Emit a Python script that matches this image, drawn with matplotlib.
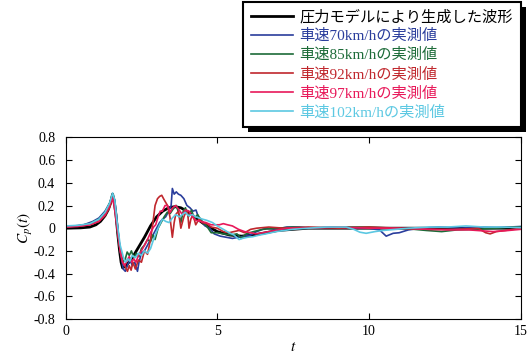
import matplotlib
matplotlib.use('Agg')
import matplotlib.pyplot as plt
from matplotlib.patches import Rectangle

plt.rcParams['font.family'] = ['Liberation Serif', 'Noto Sans CJK JP']
plt.rcParams['mathtext.fontset'] = 'stix'

# (t, Cp) pairs
model = [(0, 0.0), (0.5, 0.003), (0.8, 0.01), (1.0, 0.03), (1.15, 0.06), (1.3, 0.11), (1.4, 0.16),
         (1.48, 0.22), (1.55, 0.3), (1.6, 0.24), (1.66, 0.12), (1.72, -0.05), (1.78, -0.2), (1.83, -0.3),
         (1.88, -0.35), (2.0, -0.33), (2.2, -0.26), (2.4, -0.17), (2.6, -0.08), (2.8, 0.02), (3.0, 0.1),
         (3.2, 0.15), (3.4, 0.18), (3.6, 0.19), (3.8, 0.18), (4.0, 0.15), (4.3, 0.09), (4.6, 0.03),
         (5.0, -0.03), (5.4, -0.06), (5.8, -0.07), (6.2, -0.06), (6.6, -0.04), (7.0, -0.02), (7.5, -0.01),
         (8, 0.0), (15, 0.0)]

v70 = [(0, 0.01), (0.3, 0.02), (0.6, 0.03), (0.9, 0.06), (1.1, 0.09), (1.3, 0.15), (1.45, 0.22), (1.55, 0.29),
       (1.62, 0.25), (1.7, 0.05), (1.8, -0.2), (1.9, -0.36), (1.97, -0.38), (2.05, -0.32), (2.12, -0.28),
       (2.2, -0.33), (2.28, -0.3), (2.37, -0.38), (2.42, -0.3), (2.5, -0.22), (2.6, -0.2), (2.7, -0.15),
       (2.8, -0.1), (2.9, -0.05), (3.0, 0.0), (3.1, 0.05), (3.2, 0.08), (3.3, 0.1), (3.4, 0.15), (3.48, 0.2),
       (3.52, 0.35), (3.58, 0.3), (3.65, 0.32), (3.72, 0.3), (3.8, 0.29), (3.9, 0.26), (4.0, 0.2), (4.1, 0.18),
       (4.2, 0.15), (4.3, 0.16), (4.4, 0.08), (4.5, 0.06), (4.6, 0.02), (4.75, 0.0), (4.9, -0.05), (5.1, -0.07),
       (5.3, -0.08), (5.5, -0.09), (5.7, -0.08), (5.9, -0.07), (6.1, -0.06), (6.3, -0.03), (6.6, 0.0),
       (6.9, -0.01), (7.3, 0.01), (7.7, 0.01), (8.2, 0.0), (8.8, 0.01), (9.4, 0.0), (10.0, 0.0), (10.35, -0.015),
       (10.57, -0.07), (10.8, -0.045), (11.0, -0.04), (11.3, -0.015), (11.7, 0.0), (12.3, 0.01), (13, 0.0),
       (13.6, 0.01), (14.2, 0.005), (14.6, 0.01), (15, 0.015)]

v85 = [(0, 0.015), (0.4, 0.02), (0.8, 0.04), (1.1, 0.08), (1.3, 0.14), (1.45, 0.22), (1.55, 0.3), (1.62, 0.22),
       (1.7, 0.0), (1.8, -0.2), (1.9, -0.3), (1.97, -0.27), (2.03, -0.21), (2.1, -0.24), (2.17, -0.2),
       (2.25, -0.26), (2.33, -0.22), (2.42, -0.25), (2.5, -0.18), (2.6, -0.15), (2.7, -0.1), (2.8, -0.12),
       (2.88, -0.06), (2.95, -0.1), (3.05, 0.0), (3.15, 0.05), (3.25, 0.1), (3.35, 0.14), (3.45, 0.13),
       (3.55, 0.17), (3.65, 0.2), (3.72, 0.14), (3.8, 0.05), (3.88, 0.15), (3.95, 0.18), (4.05, 0.1),
       (4.15, 0.16), (4.25, 0.08), (4.35, 0.12), (4.5, 0.06), (4.65, 0.02), (4.8, -0.04), (5.0, -0.04),
       (5.2, -0.05), (5.45, -0.06), (5.65, -0.05), (5.8, -0.09), (5.95, -0.05), (6.2, -0.03), (6.5, -0.01),
       (7.0, 0.0), (7.5, 0.01), (8.2, 0.0), (9.0, 0.01), (10.0, 0.01), (10.8, 0.0), (11.5, -0.01), (11.9, -0.02),
       (12.4, -0.03), (12.9, -0.015), (13.5, -0.01), (14.2, 0.0), (14.7, 0.01), (15, 0.01)]

v92 = [(0, 0.01), (0.4, 0.02), (0.8, 0.03), (1.1, 0.06), (1.3, 0.11), (1.45, 0.18), (1.55, 0.27), (1.62, 0.2),
       (1.7, 0.0), (1.8, -0.2), (1.88, -0.3), (1.95, -0.33), (2.04, -0.38), (2.1, -0.33), (2.16, -0.37),
       (2.22, -0.3), (2.3, -0.36), (2.4, -0.28), (2.5, -0.3), (2.6, -0.2), (2.7, -0.23), (2.8, -0.1),
       (2.88, 0.05), (2.95, 0.2), (3.03, 0.26), (3.1, 0.28), (3.17, 0.29), (3.25, 0.25), (3.36, 0.2),
       (3.44, 0.1), (3.52, -0.08), (3.58, 0.05), (3.63, 0.12), (3.72, 0.15), (3.8, 0.0), (3.9, 0.1),
       (3.96, 0.14), (4.02, 0.15), (4.07, 0.0), (4.13, 0.08), (4.2, 0.12), (4.29, 0.03), (4.4, 0.08),
       (4.5, 0.05), (4.65, 0.04), (4.8, 0.01), (5.0, 0.0), (5.2, -0.03), (5.39, -0.04), (5.55, -0.03),
       (5.72, -0.02), (5.9, -0.04), (6.1, -0.01), (6.3, 0.0), (6.7, 0.01), (7.2, 0.0), (8, 0.01), (9, 0.0),
       (10, 0.01), (11, 0.0), (12, -0.01), (12.8, -0.01), (13.3, -0.005), (13.6, 0.0), (13.85, -0.04),
       (14.0, -0.05), (14.2, -0.03), (14.5, -0.02), (15, 0.0)]

v97 = [(0, 0.01), (0.4, 0.015), (0.8, 0.03), (1.1, 0.06), (1.3, 0.12), (1.45, 0.2), (1.53, 0.27), (1.6, 0.2),
       (1.7, 0.0), (1.8, -0.2), (1.88, -0.3), (1.95, -0.33), (2.03, -0.28), (2.1, -0.25), (2.18, -0.3),
       (2.25, -0.27), (2.32, -0.3), (2.4, -0.24), (2.5, -0.2), (2.6, -0.15), (2.7, -0.1), (2.8, -0.04),
       (2.9, 0.01), (2.97, 0.03), (3.05, 0.1), (3.12, 0.15), (3.19, 0.15), (3.28, 0.2), (3.36, 0.2),
       (3.45, 0.14), (3.53, 0.18), (3.63, 0.2), (3.72, 0.17), (3.85, 0.12), (3.95, 0.16), (4.07, 0.15),
       (4.18, 0.1), (4.29, 0.07), (4.45, 0.06), (4.62, 0.05), (4.8, 0.03), (5.07, 0.03), (5.2, 0.04),
       (5.34, 0.03), (5.5, 0.02), (5.7, -0.01), (5.9, -0.03), (6.1, -0.04), (6.28, -0.05), (6.5, -0.04),
       (6.7, -0.03), (7.0, -0.015), (7.3, 0.0), (8, 0.0), (9, 0.01), (10, 0.0), (11, 0.0), (12, -0.01),
       (12.6, -0.015), (13.3, -0.015), (14.1, -0.03), (14.6, -0.02), (15, -0.01)]

v102 = [(0, 0.02), (0.4, 0.025), (0.8, 0.04), (1.1, 0.08), (1.3, 0.14), (1.45, 0.22), (1.55, 0.31), (1.62, 0.25),
        (1.7, 0.05), (1.8, -0.15), (1.9, -0.25), (1.97, -0.3), (2.05, -0.27), (2.12, -0.29), (2.2, -0.24),
        (2.3, -0.26), (2.4, -0.22), (2.5, -0.24), (2.6, -0.2), (2.7, -0.22), (2.8, -0.18), (2.9, -0.1),
        (3.0, -0.03), (3.1, 0.03), (3.19, 0.08), (3.3, 0.06), (3.41, 0.05), (3.52, 0.09), (3.63, 0.12),
        (3.75, 0.1), (3.85, 0.12), (3.95, 0.14), (4.05, 0.11), (4.18, 0.12), (4.29, 0.1), (4.4, 0.09),
        (4.51, 0.08), (4.65, 0.07), (4.84, 0.05), (5.0, 0.02), (5.2, -0.01), (5.39, -0.04), (5.55, -0.06),
        (5.72, -0.1), (5.83, -0.09), (6.0, -0.08), (6.17, -0.075), (6.4, -0.06), (6.6, -0.05), (6.94, -0.03),
        (7.2, -0.02), (7.49, -0.01), (8, 0.0), (8.6, 0.01), (9.25, 0.01), (9.5, -0.01), (9.7, -0.035),
        (9.91, -0.045), (10.2, -0.03), (10.46, -0.02), (10.9, -0.01), (11.3, 0.0), (12, 0.01), (12.6, 0.01),
        (13.2, 0.02), (13.8, 0.01), (14.4, 0.01), (15, 0.005)]

labels = ['圧力モデルにより生成した波形', '車速70km/hの実測値', '車速85km/hの実測値',
          '車速92km/hの実測値', '車速97km/hの実測値', '車速102km/hの実測値']
colors = ['black', '#2a3d9c', '#1c6b38', '#c0272d', '#e8195a', '#5cc8e2']
yticks = [-0.8, -0.6, -0.4, -0.2, 0, 0.2, 0.4, 0.6, 0.8]
ytick_labels = ['-0.8', '-0.6', '-0.4', '-0.2', '0', '0.2', '0.4', '0.6', '0.8']
xticks = [0, 5, 10, 15]

fig = plt.figure(figsize=(5.29, 3.56), dpi=100)
ax = fig.add_axes([0.124, 0.104, 0.86, 0.51])

series = [model, v70, v85, v92, v97, v102]
for i, s in enumerate(series):
    t = [p[0] for p in s]
    v = [p[1] for p in s]
    lw = 2.0 if i == 0 else 1.2
    ax.plot(t, v, color=colors[i], lw=lw, label=labels[i])

ax.set_xlim(0, 15)
ax.set_ylim(-0.8, 0.8)
ax.set_xticks(xticks)
ax.set_yticks(yticks)
ax.set_yticklabels(ytick_labels)
ax.tick_params(direction='in', top=True, right=True, length=4, width=0.8, labelsize=10)
ax.tick_params(axis='x', pad=4.5)
ax.tick_params(axis='y', pad=7.5)
for sp in ax.spines.values():
    sp.set_linewidth(0.8)
ax.set_xlabel('$t$', fontsize=11, labelpad=2)
ax.set_ylabel('$C_p(t)$', fontsize=11, labelpad=-1)

leg = fig.legend(loc='upper left', bbox_to_anchor=(243 / 529, 1 - 2 / 356), fontsize=11,
                 labelcolor='linecolor', fancybox=False, framealpha=1, borderaxespad=0,
                 handlelength=2.75, handletextpad=0.45, labelspacing=0.32, borderpad=0.5)
leg.get_frame().set_edgecolor('black')
leg.get_frame().set_linewidth(1.5)
leg.set_zorder(6)

# black drop shadow under the legend box
fig.canvas.draw()
bb = leg.get_window_extent().transformed(fig.transFigure.inverted())
dx = 5 / 529
dy = 5 / 356
fig.patches.append(Rectangle((bb.x0 + dx, bb.y0 - dy), bb.width, bb.height, transform=fig.transFigure,
                             facecolor='black', edgecolor='none', zorder=5))

fig.savefig('out.png', dpi=100)
